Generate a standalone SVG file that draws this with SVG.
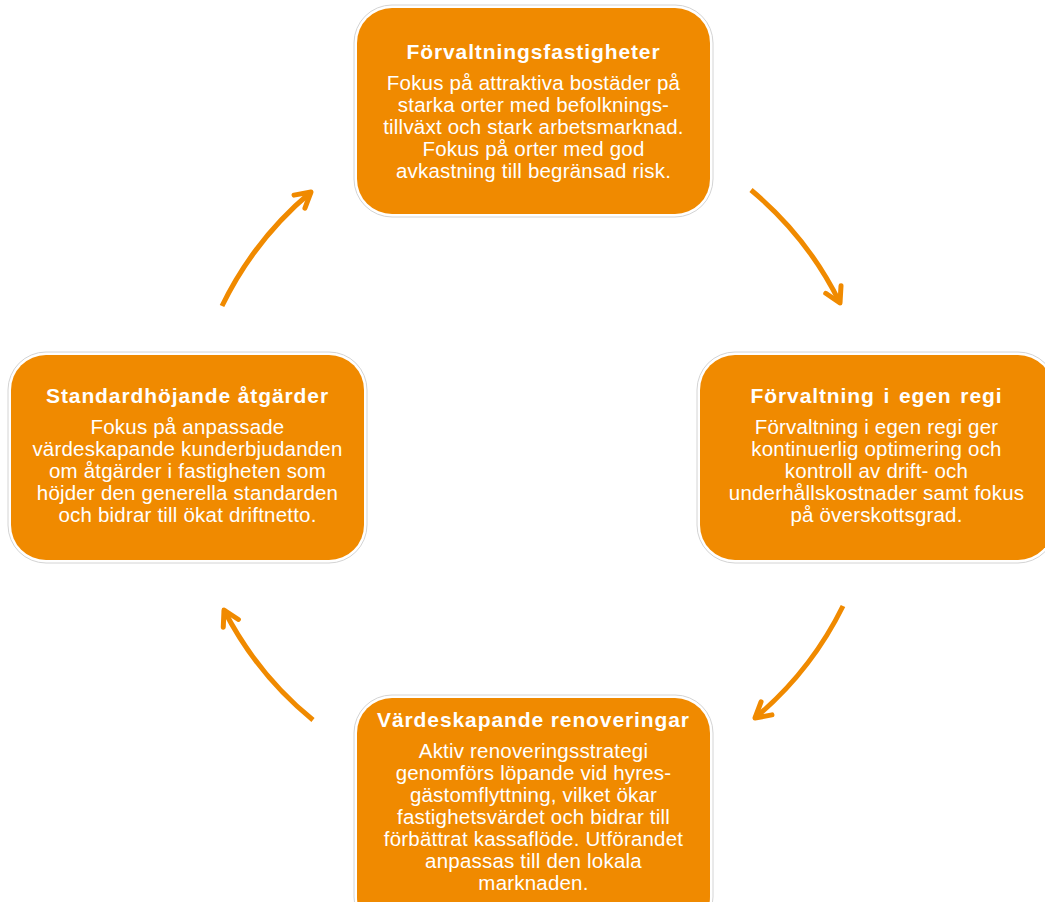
<svg xmlns="http://www.w3.org/2000/svg" width="1045" height="902" viewBox="0 0 1045 902">
<style>
.outer{fill:#fff;stroke:#d4d4d4;stroke-width:1}
.inner{fill:#F08A00}
.t{font-family:"Liberation Sans",Arial,sans-serif;font-weight:bold;font-size:21px;letter-spacing:0.9px;fill:#fff;text-anchor:middle}
.b{font-family:"Liberation Sans",Arial,sans-serif;font-size:20.5px;letter-spacing:0.2px;fill:#fff;text-anchor:middle}
.arc{fill:none;stroke:#F08A00;stroke-width:5;marker-end:url(#ah)}
</style>
<defs>
<marker id="ah" markerUnits="userSpaceOnUse" viewBox="-20 -14 24 28" markerWidth="24" markerHeight="28" refX="0" refY="0" orient="auto" overflow="visible">
<path d="M-15,-8.5 L0,0 L-15,8.5" fill="none" stroke="#F08A00" stroke-width="5" stroke-linecap="round" stroke-linejoin="round"/>
</marker>
</defs>
<rect width="1045" height="902" fill="#fff"/>
<g id="connectors">
<path class="arc" d="M222,306 A345,345 0 0 1 311,192"/>
<path class="arc" d="M751,190 A345,345 0 0 1 840,303"/>
<path class="arc" d="M843,606 A345,345 0 0 1 755,718"/>
<path class="arc" d="M313,720 A345,345 0 0 1 224,610"/>
</g>
<g id="node-top">
<rect class="outer" x="354" y="5" width="359" height="212" rx="38"/>
<rect class="inner" x="357" y="8" width="353" height="206" rx="35"/>
<text class="t" x="533.5" y="59">Förvaltningsfastigheter</text>
<text class="b" x="533.5" y="90">Fokus på attraktiva bostäder på</text>
<text class="b" x="533.5" y="112">starka orter med befolknings-</text>
<text class="b" x="533.5" y="134">tillväxt och stark arbetsmarknad.</text>
<text class="b" x="533.5" y="156">Fokus på orter med god</text>
<text class="b" x="533.5" y="178">avkastning till begränsad risk.</text>
</g>
<g id="node-right">
<rect class="outer" x="697" y="352" width="359" height="211" rx="38"/>
<rect class="inner" x="700" y="355" width="353" height="205" rx="35"/>
<text class="t" x="876.5" y="403" word-spacing="2">Förvaltning i egen regi</text>
<text class="b" x="876.5" y="434">Förvaltning i egen regi ger</text>
<text class="b" x="876.5" y="456">kontinuerlig optimering och</text>
<text class="b" x="876.5" y="478">kontroll av drift- och</text>
<text class="b" x="876.5" y="500">underhållskostnader samt fokus</text>
<text class="b" x="876.5" y="522">på överskottsgrad.</text>
</g>
<g id="node-left">
<rect class="outer" x="8" y="352" width="359" height="211" rx="38"/>
<rect class="inner" x="11" y="355" width="353" height="205" rx="35"/>
<text class="t" x="187.5" y="403">Standardhöjande åtgärder</text>
<text class="b" x="187.5" y="434">Fokus på anpassade</text>
<text class="b" x="187.5" y="456">värdeskapande kunderbjudanden</text>
<text class="b" x="187.5" y="478">om åtgärder i fastigheten som</text>
<text class="b" x="187.5" y="500">höjder den generella standarden</text>
<text class="b" x="187.5" y="522">och bidrar till ökat driftnetto.</text>
</g>
<g id="node-bottom">
<rect class="outer" x="354" y="695" width="359" height="240" rx="38"/>
<rect class="inner" x="357" y="698" width="353" height="234" rx="35"/>
<text class="t" x="533.5" y="727">Värdeskapande renoveringar</text>
<text class="b" x="533.5" y="758">Aktiv renoveringsstrategi</text>
<text class="b" x="533.5" y="780">genomförs löpande vid hyres-</text>
<text class="b" x="533.5" y="802">gästomflyttning, vilket ökar</text>
<text class="b" x="533.5" y="824">fastighetsvärdet och bidrar till</text>
<text class="b" x="533.5" y="846">förbättrat kassaflöde. Utförandet</text>
<text class="b" x="533.5" y="868">anpassas till den lokala</text>
<text class="b" x="533.5" y="890">marknaden.</text>
</g>
</svg>
